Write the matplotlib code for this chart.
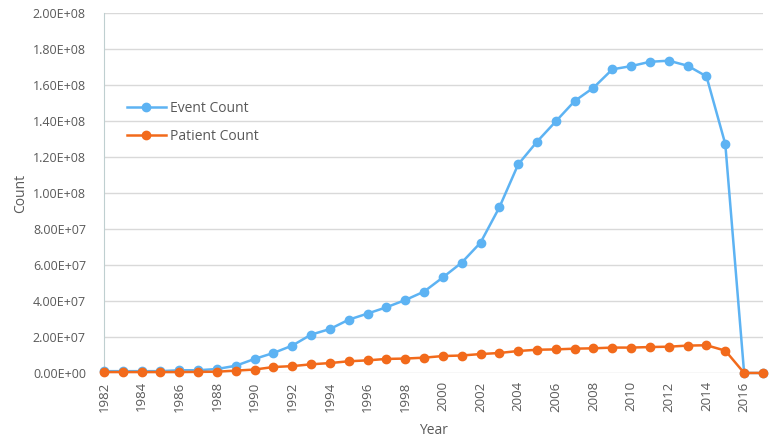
import matplotlib
matplotlib.use("Agg")
import matplotlib.pyplot as plt
from matplotlib.ticker import FuncFormatter, MultipleLocator

years = list(range(1982, 2018))
event_count = [1.0e6, 1.0e6, 1.0e6, 1.0e6, 1.5e6, 1.5e6, 2.2e6, 4.0e6, 7.8e6, 11.1e6,
               15.2e6, 21.3e6, 24.4e6, 29.6e6, 33.0e6, 36.5e6, 40.5e6, 45.2e6, 53.1e6, 61.3e6,
               72.4e6, 92.0e6, 115.9e6, 128.5e6, 139.8e6, 151.1e6, 158.5e6, 168.7e6, 170.5e6, 172.9e6,
               173.5e6, 170.7e6, 164.8e6, 127.2e6, 0.0, 0.0]
patient_count = [0.5e6, 0.5e6, 0.5e6, 0.5e6, 0.5e6, 0.6e6, 0.7e6, 1.3e6, 1.9e6, 3.3e6,
                 3.8e6, 4.8e6, 5.5e6, 6.5e6, 7.0e6, 7.8e6, 8.0e6, 8.5e6, 9.4e6, 9.7e6,
                 10.5e6, 11.1e6, 12.2e6, 12.9e6, 13.1e6, 13.5e6, 13.7e6, 14.1e6, 14.1e6, 14.4e6,
                 14.6e6, 15.2e6, 15.4e6, 12.4e6, 0.0, 0.0]

plt.rcParams['font.family'] = ['Open Sans', 'DejaVu Sans']
text_color = '#595959'

fig = plt.figure(figsize=(7.73, 4.44), dpi=100)
ax = fig.add_axes([0.1345, 0.16, 0.8525, 0.8107])

blue = '#5DB3F3'
orange = '#F26A1B'
ax.plot(years, event_count, color=blue, lw=1.8, marker='o', ms=6, label='Event Count', clip_on=False, zorder=3)
ax.plot(years, patient_count, color=orange, lw=1.8, marker='o', ms=6, label='Patient Count', clip_on=False, zorder=4)

ax.set_xlim(1982, 2017)
ax.set_ylim(0, 2.0e8)
ax.yaxis.set_major_locator(MultipleLocator(2e7))
ax.set_xticks(list(range(1982, 2017, 2)))
ax.set_xticklabels([str(y) for y in range(1982, 2017, 2)], rotation=90)

def fmt(v, pos):
    if v == 0:
        return '0.00E+00'
    return '%.2E' % v
ax.yaxis.set_major_formatter(FuncFormatter(fmt))

ax.grid(axis='y', color='#D9D9D9', lw=1)
ax.set_axisbelow(True)
for s in ['top', 'right', 'bottom']:
    ax.spines[s].set_visible(False)
ax.spines['left'].set_color('#BFCFD0')
ax.tick_params(axis='y', length=0, labelsize=9, colors=text_color, pad=13)
ax.tick_params(axis='x', length=0, labelsize=9.5, colors=text_color, pad=6)

ax.set_xlabel('Year', fontsize=10, color=text_color, labelpad=8)
ax.set_ylabel('Count', fontsize=10, color=text_color, labelpad=3)

leg = ax.legend(loc='upper left', bbox_to_anchor=(0.016, 0.79), frameon=False, fontsize=10,
                handlelength=2.8, labelspacing=0.9, handletextpad=0.3)
for t in leg.get_texts():
    t.set_color(text_color)

fig.savefig('out.png', dpi=100)
